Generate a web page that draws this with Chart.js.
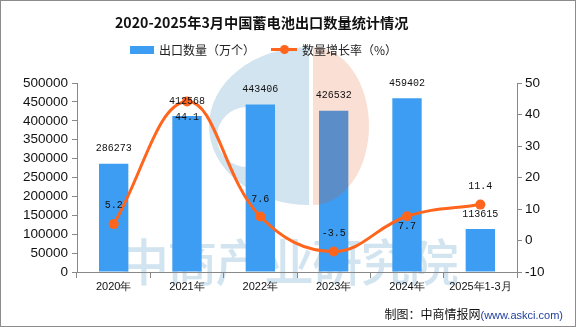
<!DOCTYPE html>
<html>
<head>
<meta charset="utf-8">
<script src="https://cdn.jsdelivr.net/npm/chart.js@4/dist/chart.umd.min.js"></script>
<style>
  html, body { margin: 0; padding: 0; background: #fff; }
  #wrap { position: relative; width: 576px; height: 327px; box-sizing: border-box; border: 1px solid #8c8c8c; overflow: hidden; font-family: "Noto Sans CJK SC", sans-serif; }
  #chart { position: absolute; left: -1px; top: -1px; }
  .title { position: absolute; top: 11px; left: 114px; white-space: nowrap; font-size: 14.2px; font-weight: bold; color: #111; }
  .legend { position: absolute; top: 40px; font-size: 12px; color: #222; display: flex; align-items: center; }
  .sw-bar { width: 24px; height: 8px; background: #3d9df2; margin-right: 5px; }
  .sw-line { position: relative; width: 26px; height: 3px; background: #ff651c; margin-right: 5px; }
  .sw-line::after { content: ""; position: absolute; left: 9px; top: -3px; width: 9px; height: 9px; border-radius: 50%; background: #ff651c; }
  .footer { position: absolute; right: 12px; top: 304px; font-size: 12px; color: #111; }
  .footer span { color: #1f3f9e; font-size: 11px; font-family: "Liberation Sans", sans-serif; }
</style>
</head>
<body>
<div id="wrap">
  <canvas id="chart" width="576" height="327"></canvas>
  <div class="title">2020-2025年3月中国蓄电池出口数量统计情况</div>
  <div class="legend" style="left:129px"><div class="sw-bar"></div>出口数量（万个）</div>
  <div class="legend" style="left:270px"><div class="sw-line"></div>数量增长率（%）</div>
  <div class="footer">制图：中商情报网<span>(www.askci.com)</span></div>
</div>
<script>
const categories = ["2020年", "2021年", "2022年", "2023年", "2024年", "2025年1-3月"];
const exportVolume = [286273, 412568, 443406, 426532, 459402, 113615];
const growthRate = [5.2, 44.1, 7.6, -3.5, 7.7, 11.4];
// offset of each growth label from its point, negative = above
const growthLabelOffset = [-19, 16, -17, -18, 10, -18];

const BAR_COLOR = "#3d9df2";
const LINE_COLOR = "#ff651c";
const TICK_FONT = { family: "Liberation Sans", size: 13.5 };

// faint publisher watermark: blue half of the logo and the text sit behind everything
const watermarkBack = {
  id: "watermarkBack",
  beforeDraw(chart) {
    const ctx = chart.ctx;
    ctx.save();
    ctx.fillStyle = "#d2e4ef";
    ctx.beginPath();
    ctx.ellipse(309, 126, 100, 79, 0, Math.PI / 2, Math.PI * 1.5);
    ctx.closePath();
    ctx.roundRect(217, 107, 56, 60, [30, 0, 0, 30]);
    ctx.fill("evenodd");
    ctx.font = "500 50px 'Noto Sans CJK SC'";
    ctx.textBaseline = "middle";
    "中商产业研究院".split("").forEach((ch, i) => ctx.fillText(ch, 119 + i * 48.3, 262));
    ctx.restore();
  }
};

// orange half of the logo is laid over the bars
const watermarkFront = {
  id: "watermarkFront",
  afterDatasetsDraw(chart) {
    const ctx = chart.ctx;
    ctx.save();
    ctx.globalAlpha = 0.18;
    ctx.fillStyle = "rgb(228,78,15)";
    ctx.beginPath();
    ctx.ellipse(313, 126, 56, 79, 0, -Math.PI / 2, Math.PI / 2);
    ctx.closePath();
    ctx.fill();
    ctx.restore();
  }
};

// draw value labels for bars and line points
const valueLabels = {
  id: "valueLabels",
  afterDatasetsDraw(chart) {
    const ctx = chart.ctx;
    ctx.save();
    ctx.font = "10px 'Liberation Mono', monospace";
    ctx.fillStyle = "#111";
    ctx.textAlign = "center";
    ctx.textBaseline = "middle";
    chart.getDatasetMeta(1).data.forEach((el, i) => {
      ctx.fillText(String(exportVolume[i]), el.x, el.y - 15);
    });
    chart.getDatasetMeta(0).data.forEach((el, i) => {
      ctx.fillText(growthRate[i].toFixed(1), el.x, el.y + growthLabelOffset[i]);
    });
    ctx.restore();
  }
};

new Chart(document.getElementById("chart"), {
  data: {
    labels: categories,
    datasets: [
      {
        type: "line",
        data: growthRate,
        yAxisID: "y1",
        borderColor: LINE_COLOR,
        backgroundColor: LINE_COLOR,
        borderWidth: 3,
        pointRadius: 5,
        pointBorderWidth: 0,
        tension: 0.4,
        order: 0
      },
      {
        type: "bar",
        data: exportVolume,
        yAxisID: "y",
        backgroundColor: BAR_COLOR,
        barPercentage: 0.4,
        categoryPercentage: 1,
        order: 1
      }
    ]
  },
  options: {
    responsive: false,
    animation: false,
    layout: { padding: { top: 83, right: 0, left: 0, bottom: 0 } },
    plugins: { legend: { display: false }, title: { display: false }, tooltip: { enabled: false } },
    scales: {
      x: {
        offset: true,
        grid: { display: true, drawOnChartArea: false, offset: true, tickLength: 6, color: "#888" },
        border: { color: "#888", width: 1 },
        ticks: { color: "#111", font: { family: "Liberation Sans", size: 11 }, padding: 2, maxRotation: 0, autoSkip: false },
        afterFit(s) { s.height = 55; }
      },
      y: {
        position: "left",
        min: 0, max: 500000,
        ticks: { stepSize: 50000, autoSkip: false, color: "#111", font: TICK_FONT, padding: 4, callback: (v) => String(v) },
        grid: { drawOnChartArea: false, tickLength: 5, color: "#888" },
        border: { color: "#888", width: 1 },
        afterFit(s) { s.width = 77; }
      },
      y1: {
        position: "right",
        min: -10, max: 50,
        ticks: { stepSize: 10, autoSkip: false, color: "#111", font: TICK_FONT, padding: 3, callback: (v) => String(v) },
        grid: { drawOnChartArea: false, tickLength: 5, color: "#888" },
        border: { color: "#888", width: 1 },
        afterFit(s) { s.width = 59; }
      }
    }
  },
  plugins: [watermarkBack, watermarkFront, valueLabels]
});
</script>
</body>
</html>
